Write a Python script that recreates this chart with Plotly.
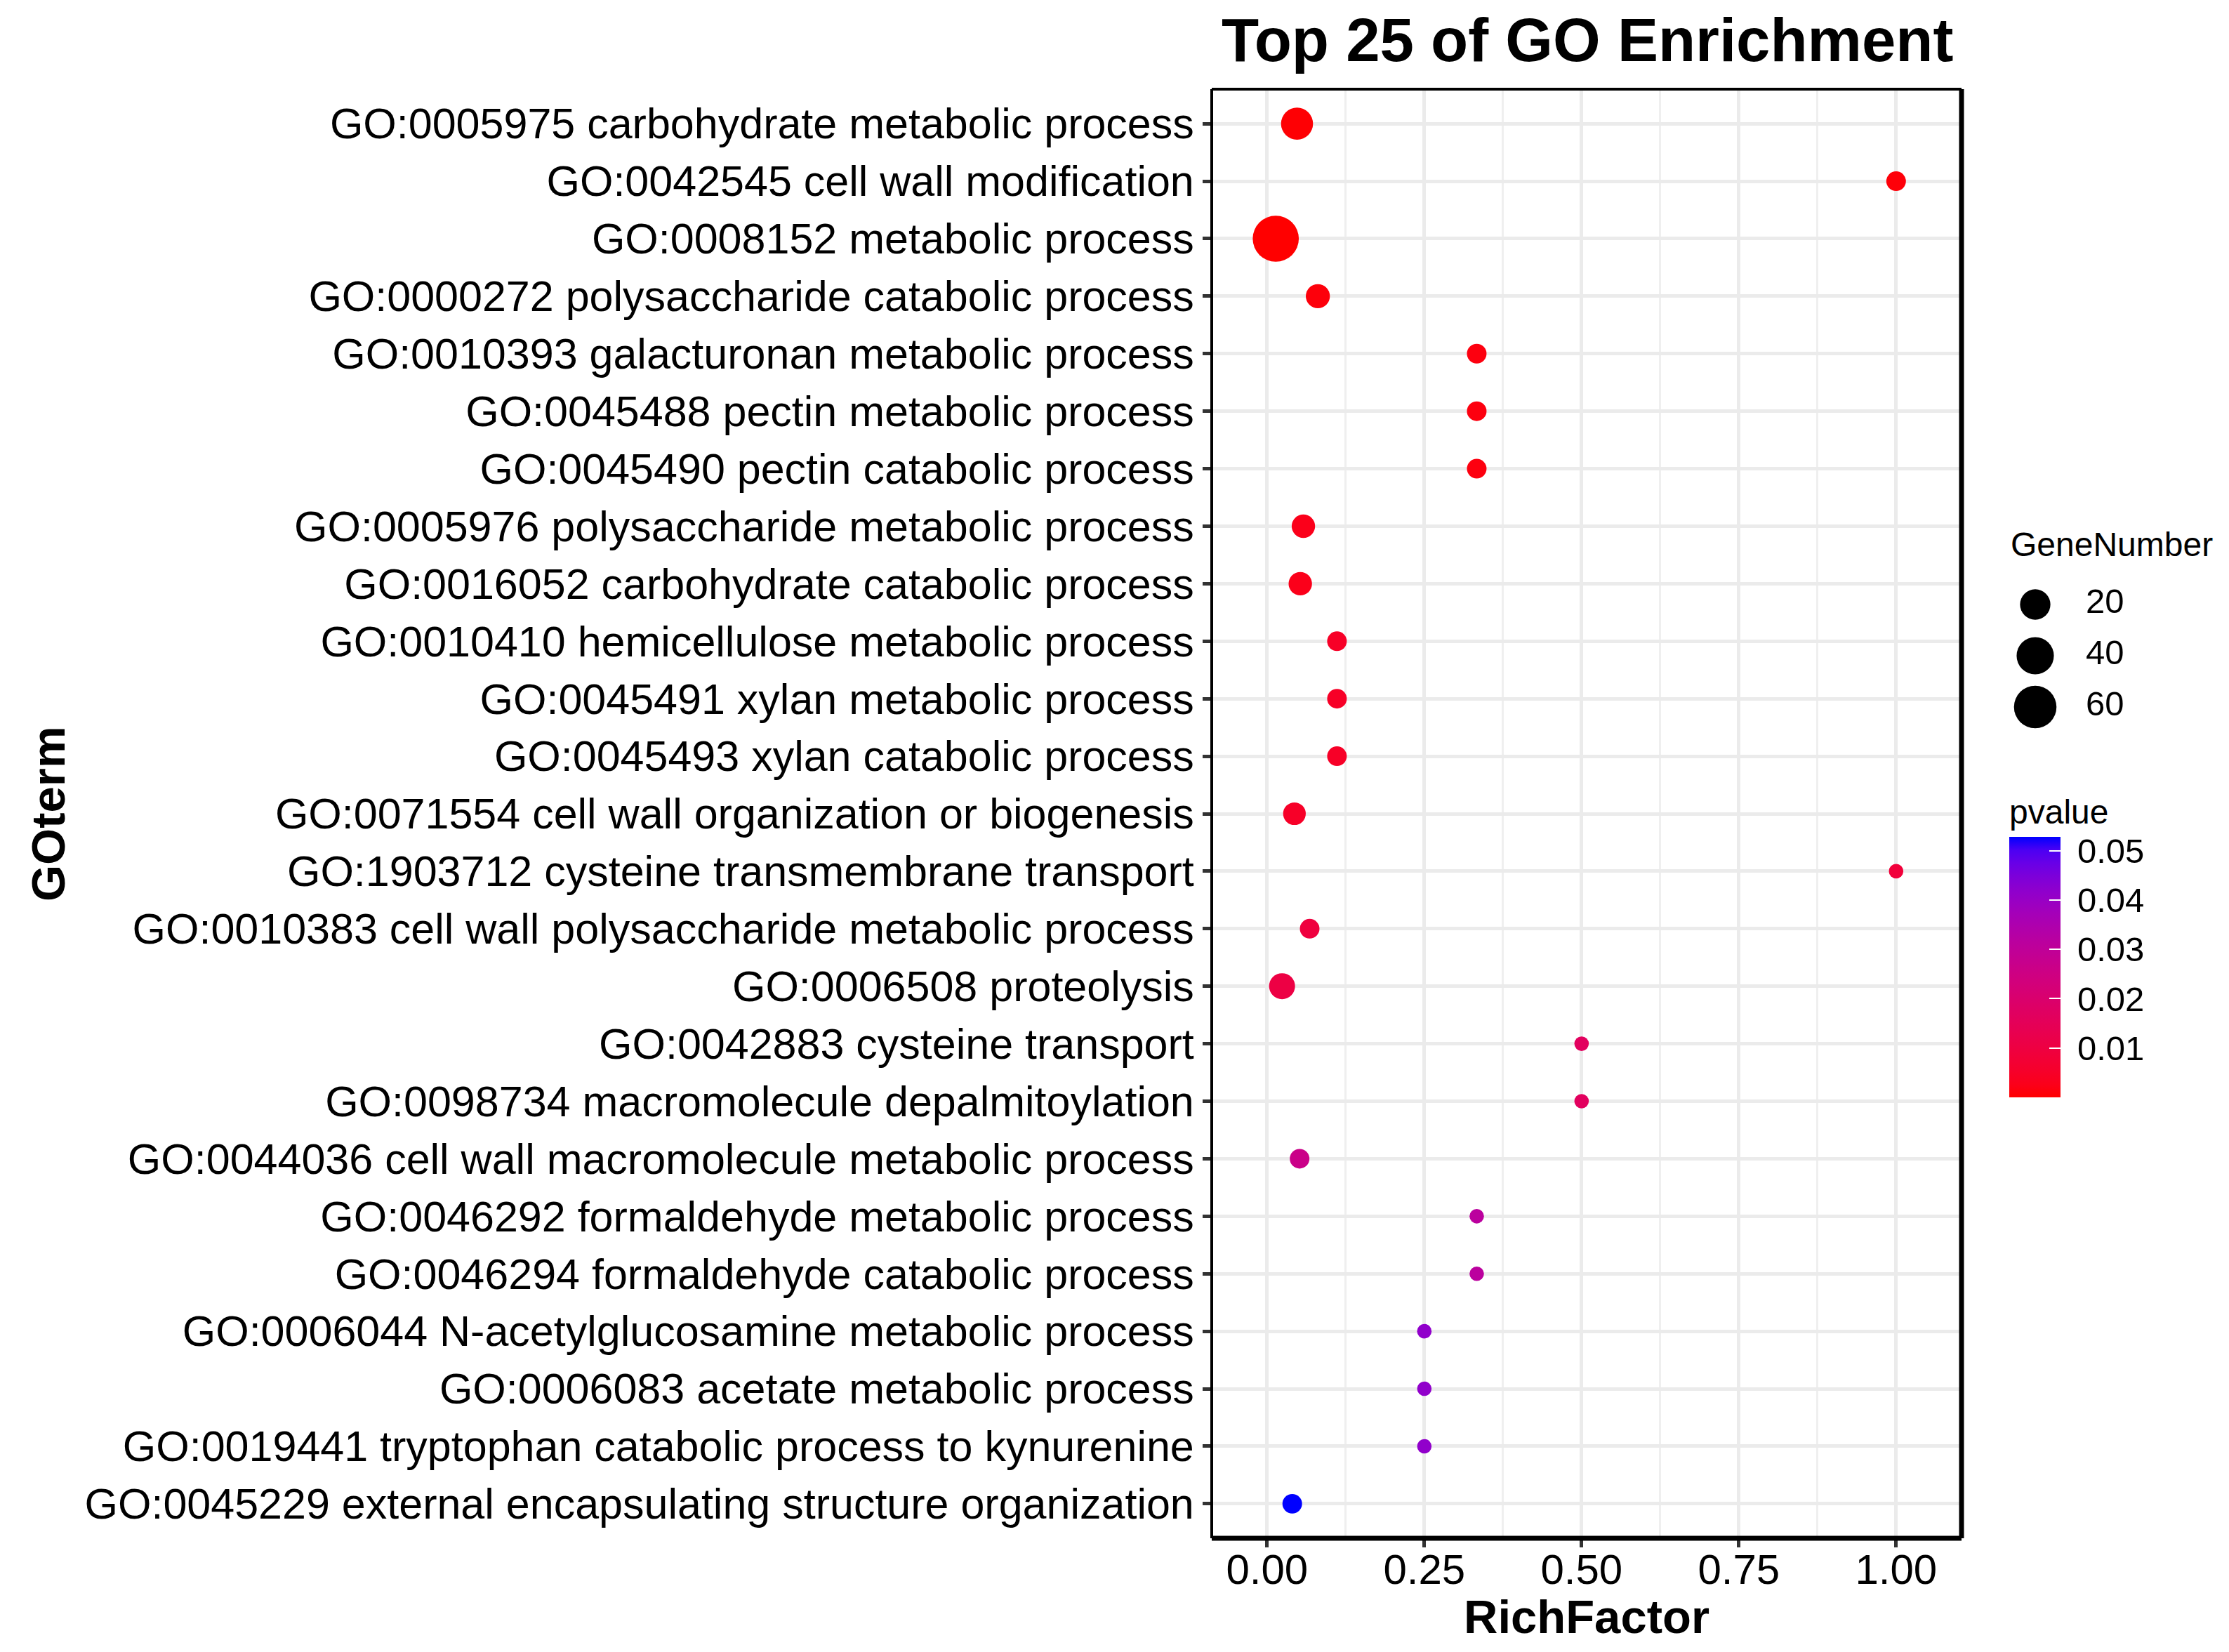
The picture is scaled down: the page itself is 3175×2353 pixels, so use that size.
import math
import plotly.graph_objs as go

W, H = 3175, 2353

go_terms = [
    "GO:0005975 carbohydrate metabolic process",
    "GO:0042545 cell wall modification",
    "GO:0008152 metabolic process",
    "GO:0000272 polysaccharide catabolic process",
    "GO:0010393 galacturonan metabolic process",
    "GO:0045488 pectin metabolic process",
    "GO:0045490 pectin catabolic process",
    "GO:0005976 polysaccharide metabolic process",
    "GO:0016052 carbohydrate catabolic process",
    "GO:0010410 hemicellulose metabolic process",
    "GO:0045491 xylan metabolic process",
    "GO:0045493 xylan catabolic process",
    "GO:0071554 cell wall organization or biogenesis",
    "GO:1903712 cysteine transmembrane transport",
    "GO:0010383 cell wall polysaccharide metabolic process",
    "GO:0006508 proteolysis",
    "GO:0042883 cysteine transport",
    "GO:0098734 macromolecule depalmitoylation",
    "GO:0044036 cell wall macromolecule metabolic process",
    "GO:0046292 formaldehyde metabolic process",
    "GO:0046294 formaldehyde catabolic process",
    "GO:0006044 N-acetylglucosamine metabolic process",
    "GO:0006083 acetate metabolic process",
    "GO:0019441 tryptophan catabolic process to kynurenine",
    "GO:0045229 external encapsulating structure organization",
]

rich_factor = [0.0476, 1.0, 0.0138, 0.0807, 0.3333, 0.3333, 0.3333, 0.0577, 0.0528,
               0.1111, 0.1111, 0.1111, 0.0435, 1.0, 0.0677, 0.0238, 0.5, 0.5,
               0.0517, 0.3333, 0.3333, 0.25, 0.25, 0.25, 0.040]

gene_number = [24, 3, 76, 8, 3, 3, 3, 7, 7, 3, 3, 3, 6, 1, 3, 11, 1, 1, 3, 1, 1,
               1, 1, 1, 3]

pvalue = [0.0004, 0.0009, 0.0000001, 0.0011, 0.0015, 0.0015, 0.0015, 0.0026, 0.0027,
          0.0048, 0.0048, 0.0048, 0.0050, 0.0085, 0.0095, 0.0105, 0.0165, 0.0165,
          0.0265, 0.0315, 0.0315, 0.0415, 0.0415, 0.0415, 0.0528]

x_ticks = [0.0, 0.25, 0.5, 0.75, 1.0]
x_tick_labels = ["0.00", "0.25", "0.50", "0.75", "1.00"]
size_breaks = [20, 40, 60]
p_ticks = [0.01, 0.02, 0.03, 0.04, 0.05]
p_tick_labels = ["0.01", "0.02", "0.03", "0.04", "0.05"]

FONT = "Liberation Sans, Arial, sans-serif"


def px_x(px):
    return px / W


def px_y(py):
    return 1 - py / H


def dot_size(n):
    # diameter in px, sqrt scaled like ggplot's scale_size
    return 20.6 + 5.2 * math.sqrt(n - 1)


# ggplot's scale_colour_gradient interpolates in Lab, not RGB
def _lin(c):
    c = c / 255.0
    return c / 12.92 if c <= 0.04045 else ((c + 0.055) / 1.055) ** 2.4


def rgb_to_lab(r, g, b):
    r, g, b = _lin(r), _lin(g), _lin(b)
    x = (0.4124 * r + 0.3576 * g + 0.1805 * b) / 0.95047
    y = 0.2126 * r + 0.7152 * g + 0.0722 * b
    z = (0.0193 * r + 0.1192 * g + 0.9505 * b) / 1.08883
    f = lambda t: t ** (1 / 3) if t > (6 / 29) ** 3 else t / (3 * (6 / 29) ** 2) + 4 / 29
    fx, fy, fz = f(x), f(y), f(z)
    return 116 * fy - 16, 500 * (fx - fy), 200 * (fy - fz)


def lab_to_rgb(L, a, b):
    fy = (L + 16) / 116
    fx = fy + a / 500
    fz = fy - b / 200
    finv = lambda t: t ** 3 if t > 6 / 29 else 3 * (6 / 29) ** 2 * (t - 4 / 29)
    x, y, z = 0.95047 * finv(fx), finv(fy), 1.08883 * finv(fz)
    r = 3.2406 * x - 1.5372 * y - 0.4986 * z
    g = -0.9689 * x + 1.8758 * y + 0.0415 * z
    bl = 0.0557 * x - 0.2040 * y + 1.0570 * z
    out = []
    for c in (r, g, bl):
        c = 12.92 * c if c <= 0.0031308 else 1.055 * c ** (1 / 2.4) - 0.055
        out.append(int(round(min(max(c, 0), 1) * 255)))
    return "rgb(%d,%d,%d)" % tuple(out)


lo, hi = rgb_to_lab(255, 0, 0), rgb_to_lab(0, 0, 255)
colorscale = []
for i in range(21):
    t = i / 20
    colorscale.append([t, lab_to_rgb(*[lo[k] + (hi[k] - lo[k]) * t for k in range(3)])])

# panel geometry in px
P_LEFT, P_RIGHT, P_TOP, P_BOTTOM = 1726, 2794, 127, 2191

fig = go.Figure()

fig.add_trace(go.Scatter(
    x=rich_factor, y=go_terms, mode="markers",
    marker=dict(
        size=[dot_size(n) for n in gene_number],
        color=pvalue, colorscale=colorscale,
        cmin=min(pvalue), cmax=max(pvalue),
        line=dict(width=0), opacity=1,
        colorbar=dict(
            title=dict(text="pvalue", side="top", font=dict(size=48, color="black", family=FONT)),
            xref="container", yref="container",
            x=px_x(2862), xanchor="left",
            y=px_y(1134), yanchor="top",
            len=429, lenmode="pixels", thickness=73, thicknessmode="pixels",
            xpad=0, ypad=0, outlinewidth=0,
            tickvals=p_ticks, ticktext=["\u00a0" + t for t in p_tick_labels],
            ticks="inside", ticklen=16, tickwidth=2, tickcolor="white",
            tickfont=dict(size=49, color="black", family=FONT),
        ),
    ),
    showlegend=False, hoverinfo="x+y",
))

# size legend on its own small axes
fig.add_trace(go.Scatter(
    x=[0] * len(size_breaks), y=size_breaks, mode="markers",
    marker=dict(size=[dot_size(n) for n in size_breaks], color="#000000",
                opacity=1, line=dict(width=0)),
    xaxis="x2", yaxis="y2", showlegend=False, hoverinfo="skip",
))
fig.add_trace(go.Scatter(
    x=[72] * len(size_breaks), y=size_breaks, mode="text",
    text=[str(v) for v in size_breaks], textposition="middle right",
    textfont=dict(size=49, color="black", family=FONT),
    xaxis="x2", yaxis="y2", showlegend=False, hoverinfo="skip",
))

grid = "#EBEBEB"
fig.update_layout(
    width=W, height=H, autosize=False,
    margin=dict(l=0, r=0, t=0, b=0, autoexpand=False),
    paper_bgcolor="white", plot_bgcolor="white",
    font=dict(family=FONT, color="black"),
    xaxis=dict(
        domain=[px_x(P_LEFT), px_x(P_RIGHT)], automargin=False,
        range=[-0.088, 1.104], tickvals=x_ticks, ticktext=x_tick_labels,
        showgrid=True, gridcolor=grid, gridwidth=5, zeroline=False,
        minor=dict(tick0=0.125, dtick=0.25, showgrid=True, gridcolor="#EFEFEF", gridwidth=3),
        ticks="outside", ticklen=12, tickwidth=5, tickcolor="#333333",
        ticklabelstandoff=-20,
        tickfont=dict(size=60, color="black", family=FONT),
        showline=False,
    ),
    yaxis=dict(
        domain=[px_y(P_BOTTOM), px_y(P_TOP)], automargin=False,
        type="category", categoryorder="array", categoryarray=go_terms,
        range=[len(go_terms) - 0.4, -0.6],
        showgrid=True, gridcolor=grid, gridwidth=5, zeroline=False,
        ticks="outside", ticklen=12, tickwidth=5, tickcolor="#333333",
        tickfont=dict(size=61, color="black", family=FONT),
        showline=False,
    ),
    xaxis2=dict(domain=[px_x(2862), 1], range=[-37, 276], anchor="y2",
                visible=False, automargin=False),
    yaxis2=dict(domain=[px_y(1064), px_y(804)], range=[75.62, 4.384], anchor="x2",
                visible=False, automargin=False),
    shapes=[
        dict(type="line", xref="x domain", yref="y domain", x0=0, x1=1, y0=1, y1=1,
             line=dict(color="black", width=4)),
        dict(type="line", xref="x domain", yref="y domain", x0=0, x1=1, y0=0, y1=0,
             line=dict(color="black", width=7)),
        dict(type="line", xref="x domain", yref="y domain", x0=0, x1=0, y0=0, y1=1,
             line=dict(color="black", width=4)),
        dict(type="line", xref="x domain", yref="y domain", x0=1, x1=1, y0=0, y1=1,
             line=dict(color="black", width=7)),
    ],
    annotations=[
        dict(text="<b>Top 25 of GO Enrichment</b>", xref="paper", yref="paper",
             x=px_x(2261), y=px_y(57), xanchor="center", yanchor="middle",
             showarrow=False, font=dict(size=87, color="black", family=FONT)),
        dict(text="<b>RichFactor</b>", xref="paper", yref="paper",
             x=px_x(2260), y=px_y(2302), xanchor="center", yanchor="middle",
             showarrow=False, font=dict(size=67, color="black", family=FONT)),
        dict(text="<b>GOterm</b>", xref="paper", yref="paper", textangle=-90,
             x=px_x(68), y=px_y(1160), xanchor="center", yanchor="middle",
             showarrow=False, font=dict(size=67, color="black", family=FONT)),
        dict(text="GeneNumber", xref="paper", yref="paper",
             x=px_x(2862), y=px_y(776), xanchor="left", yanchor="middle",
             showarrow=False, font=dict(size=48, color="black", family=FONT)),
    ],
)

fig.write_html("out.html", config={"displayModeBar": False},
               post_script="document.body.style.margin='0';")
